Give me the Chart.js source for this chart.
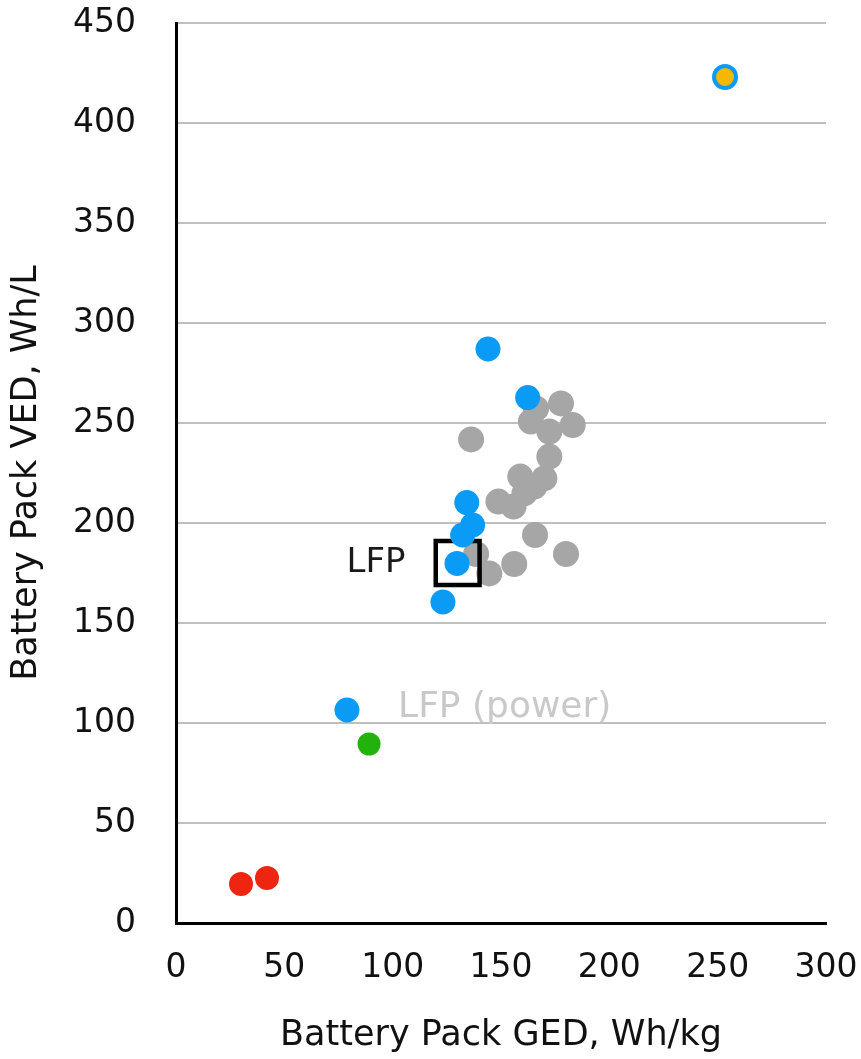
<!DOCTYPE html>
<html>
<head>
<meta charset="utf-8">
<script src="https://cdn.jsdelivr.net/npm/chart.js@4.4.1/dist/chart.umd.min.js"></script>
<style>
  html, body { margin: 0; padding: 0; background: #ffffff; }
  #wrap { width: 861px; height: 1059px; position: relative; }
</style>
</head>
<body>
<div id="wrap"><canvas id="c" width="861" height="1059"></canvas></div>
<script>
// ---- data (GED Wh/kg, VED Wh/L) ----
const grayGED = [177.7, 166.2, 163.8, 183.1, 172.3, 136.2, 172.3, 158.9, 170.0, 165.4, 160.8, 148.8, 155.8, 165.7, 180.0, 138.5, 156.1, 144.6];
const grayVED = [259.8, 257.3, 250.7, 249.0, 245.7, 241.8, 233.2, 223.2, 222.3, 218.2, 214.8, 210.7, 208.2, 194.0, 184.5, 184.5, 179.5, 174.8];
const blueGED = [144.0, 162.3, 134.2, 136.9, 132.3, 129.7, 123.2, 78.9];
const blueVED = [287.0, 262.7, 210.2, 199.0, 194.0, 179.8, 160.5, 106.5];
const orangeGED = [253.4];
const orangeVED = [423.0];
const greenGED = [89.1];
const greenVED = [89.5];
const redGED = [30.0, 42.0];
const redVED = [19.5, 22.5];
const boxGED = [130.0];
const boxVED = [180.0];
// text annotations
const noteText = ["LFP", "LFP (power)"];
const noteGED = [92.3, 102.5];
const noteVED = [180.0, 107.5];

const xTicks = [0, 50, 100, 150, 200, 250, 300];
const yTicks = [0, 50, 100, 150, 200, 250, 300, 350, 400, 450];

const pts = (xs, ys) => xs.map((x, i) => ({ x: x, y: ys[i] }));

const FONT = "'DejaVu Sans', sans-serif";

const notesPlugin = {
  id: 'notes',
  afterDatasetsDraw(chart) {
    const ctx = chart.ctx;
    const xs = chart.scales.x, ys = chart.scales.y;
    ctx.save();
    ctx.textBaseline = 'middle';
    ctx.font = "34px " + FONT;
    ctx.fillStyle = '#1a1a1a';
    ctx.textAlign = 'center';
    ctx.fillText(noteText[0], xs.getPixelForValue(noteGED[0]), ys.getPixelForValue(noteVED[0]));
    ctx.font = "36px " + FONT;
    ctx.fillStyle = '#c9c9c9';
    ctx.textAlign = 'left';
    ctx.fillText(noteText[1], xs.getPixelForValue(noteGED[1]), ys.getPixelForValue(noteVED[1]));
    ctx.restore();
  }
};

function zeroPad(s) { s.paddingTop = 0; s.paddingBottom = 0; s.paddingLeft = 0; s.paddingRight = 0; }

new Chart(document.getElementById('c'), {
  type: 'scatter',
  data: {
    datasets: [
      { label: 'blue', data: pts(blueGED, blueVED), backgroundColor: '#0a9bf7', borderWidth: 0, pointRadius: 12.5, order: 1 },
      { label: 'orange', data: pts(orangeGED, orangeVED), backgroundColor: '#f5b800', borderColor: '#0a9bf7', borderWidth: 4, pointRadius: 11, order: 1 },
      { label: 'green', data: pts(greenGED, greenVED), backgroundColor: '#22b20c', borderWidth: 0, pointRadius: 11.5, order: 1 },
      { label: 'red', data: pts(redGED, redVED), backgroundColor: '#ee2611', borderWidth: 0, pointRadius: 12, order: 1 },
      { label: 'box', data: pts(boxGED, boxVED), pointStyle: 'rect', backgroundColor: 'rgba(255,255,255,0)', borderColor: '#000000', borderWidth: 4.5, pointRadius: 31, order: 2 },
      { label: 'gray', data: pts(grayGED, grayVED), backgroundColor: '#a6a6a6', borderWidth: 0, pointRadius: 13, order: 3 }
    ]
  },
  options: {
    responsive: false,
    animation: false,
    devicePixelRatio: 1,
    layout: { autoPadding: false, padding: { left: 0, right: 35, top: 23, bottom: 0 } },
    plugins: { legend: { display: false }, tooltip: { enabled: false } },
    elements: { point: { hoverRadius: 0 } },
    scales: {
      x: {
        type: 'linear', min: 0, max: 300,
        afterBuildTicks: (s) => { s.ticks = xTicks.map(v => ({ value: v })); },
        afterFit: (s) => { s.height = 136; zeroPad(s); },
        grid: { display: false, drawTicks: false },
        border: { display: true, color: '#000000', width: 3 },
        ticks: { color: '#111111', font: { family: FONT, size: 33 }, padding: 26, maxRotation: 0 },
        title: { display: true, text: 'Battery Pack GED, Wh/kg', color: '#111111', font: { family: FONT, size: 35 }, padding: { top: 0, bottom: 2 } }
      },
      y: {
        type: 'linear', min: 0, max: 450,
        afterBuildTicks: (s) => { s.ticks = yTicks.map(v => ({ value: v })); },
        afterFit: (s) => { s.width = 176; zeroPad(s); },
        grid: { color: '#bfbfbf', lineWidth: 2, drawTicks: false },
        border: { display: true, color: '#000000', width: 3 },
        ticks: { color: '#111111', font: { family: FONT, size: 33 }, padding: 40 },
        title: { display: true, text: 'Battery Pack VED, Wh/L', color: '#111111', font: { family: FONT, size: 35 }, padding: { top: 6, bottom: 0 } }
      }
    }
  },
  plugins: [notesPlugin]
});
</script>
</body>
</html>
